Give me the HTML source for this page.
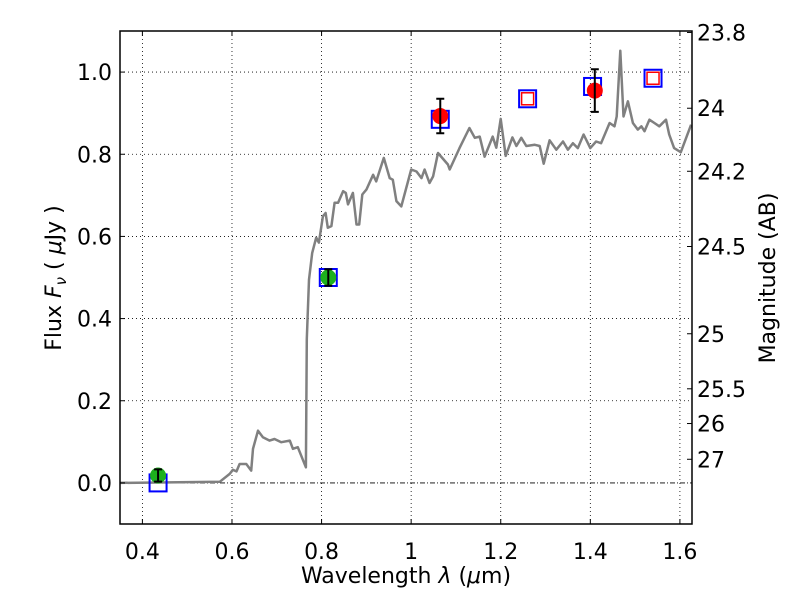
<!DOCTYPE html>
<html><head><meta charset="utf-8"><style>
html,body{margin:0;padding:0;background:#fff;}
svg{display:block;font-family:"DejaVu Sans","Liberation Sans",sans-serif;}
</style></head><body>
<svg id="chart" width="800" height="600" viewBox="0 0 800 600" xmlns="http://www.w3.org/2000/svg">
<rect x="0" y="0" width="800" height="600" fill="#fff"/>
<g id="grid"></g>
<g id="series"></g>
<g id="axes"></g>
<text x="406" y="583" font-size="22" text-anchor="middle">Wavelength  <tspan font-style="italic">λ</tspan> (<tspan font-style="italic">μ</tspan>m)</text>
<text transform="translate(61,278) rotate(-90)" font-size="22" text-anchor="middle">Flux  <tspan font-style="italic">F</tspan><tspan font-style="italic" font-size="15" dy="5">ν</tspan><tspan dy="-5">  ( </tspan><tspan font-style="italic">μ</tspan>Jy )</text>
<text transform="translate(775,278) rotate(-90)" font-size="22" text-anchor="middle">Magnitude (AB)</text>
</svg>
<script>
const xTicks = [0.4, 0.6, 0.8, 1.0, 1.2, 1.4, 1.6];
const xTickLabels = ["0.4", "0.6", "0.8", "1", "1.2", "1.4", "1.6"];
const yTicks = [0.0, 0.2, 0.4, 0.6, 0.8, 1.0];
const yTickLabels = ["0.0", "0.2", "0.4", "0.6", "0.8", "1.0"];
const magTicks = [23.8, 24, 24.2, 24.5, 25, 25.5, 26, 27];
const magTickLabels = ["23.8", "24", "24.2", "24.5", "25", "25.5", "26", "27"];
const specLam = [0.35,0.573,0.595,0.602,0.61,0.617,0.632,0.643,0.647,0.658,0.669,0.684,0.695,0.71,0.729,0.736,0.747,0.765,0.767,0.772,0.779,0.788,0.794,0.803,0.809,0.814,0.822,0.829,0.837,0.848,0.854,0.859,0.87,0.878,0.884,0.891,0.9,0.915,0.922,0.939,0.952,0.959,0.967,0.978,1.0,1.012,1.023,1.03,1.041,1.049,1.06,1.082,1.086,1.108,1.13,1.142,1.153,1.164,1.182,1.19,1.2,1.211,1.226,1.235,1.246,1.257,1.276,1.287,1.296,1.309,1.324,1.339,1.35,1.361,1.372,1.385,1.4,1.413,1.424,1.443,1.454,1.459,1.467,1.474,1.484,1.495,1.506,1.514,1.521,1.532,1.543,1.554,1.569,1.576,1.587,1.602,1.625];
const specFlux = [0.0,0.003,0.022,0.032,0.028,0.046,0.046,0.03,0.083,0.127,0.111,0.103,0.107,0.099,0.103,0.083,0.087,0.038,0.35,0.495,0.56,0.597,0.585,0.649,0.657,0.621,0.625,0.682,0.682,0.71,0.706,0.678,0.706,0.629,0.629,0.702,0.714,0.75,0.734,0.791,0.742,0.738,0.686,0.673,0.763,0.758,0.742,0.763,0.73,0.746,0.803,0.775,0.763,0.815,0.864,0.84,0.843,0.794,0.843,0.816,0.886,0.796,0.841,0.82,0.84,0.82,0.823,0.82,0.777,0.834,0.811,0.831,0.811,0.827,0.815,0.848,0.815,0.831,0.827,0.876,0.868,0.892,1.052,0.892,0.929,0.876,0.86,0.868,0.856,0.884,0.876,0.868,0.884,0.848,0.815,0.805,0.872];
const obsLam = [0.435, 0.815, 1.065, 1.41];
const obsFlux = [0.018, 0.50, 0.893, 0.955];
const obsErr = [0.015, 0.02, 0.042, 0.052];
const obsColor = ["#1db11d", "#1db11d", "#ff0000", "#ff0000"];
const modLam = [0.435, 0.815, 1.065, 1.26, 1.405, 1.54];
const modFlux = [0.0, 0.50, 0.885, 0.935, 0.965, 0.985];
const predLam = [1.26, 1.54];
const predFlux = [0.935, 0.985];

const L=120, R=692, T=31, B=524;
const X0=0.35, X1=1.627, Y0=-0.1, Y1=1.1;
const sx = v => L + (v - X0) / (X1 - X0) * (R - L);
const sy = v => B - (v - Y0) / (Y1 - Y0) * (B - T);
const magToFlux = m => Math.pow(10, (23.9 - m) / 2.5);
const NS = "http://www.w3.org/2000/svg";
function mk(parent, tag, attrs) {
  const e = document.createElementNS(NS, tag);
  for (const k in attrs) e.setAttribute(k, attrs[k]);
  parent.appendChild(e);
  return e;
}
const grid = document.getElementById('grid');
const series = document.getElementById('series');
const axes = document.getElementById('axes');

xTicks.forEach((v, i) => {
  const g = mk(grid, 'line', {x1: sx(v), x2: sx(v), y1: T, y2: B, stroke: '#000', 'stroke-width': 0.8, 'stroke-dasharray': '1,3'});
  
  
  const t1 = mk(axes, 'line', {x1: sx(v), x2: sx(v), y1: B, y2: B - 5, stroke: '#000', 'stroke-width': 1});
  
  
  const t2 = mk(axes, 'line', {x1: sx(v), x2: sx(v), y1: T, y2: T + 5, stroke: '#000', 'stroke-width': 1});
  
  
  const lb = mk(axes, 'text', {x: sx(v), y: 559, 'font-size': 22, 'text-anchor': 'middle'});
  lb.textContent = xTickLabels[i];
  
  
});
yTicks.forEach((v, i) => {
  if (v !== 0) {
    const g = mk(grid, 'line', {x1: L, x2: R, y1: sy(v), y2: sy(v), stroke: '#000', 'stroke-width': 0.8, 'stroke-dasharray': '1,3'});
    
    
  }
  const t1 = mk(axes, 'line', {x1: L, x2: L + 5, y1: sy(v), y2: sy(v), stroke: '#000', 'stroke-width': 1});
  
  
  const lb = mk(axes, 'text', {x: 112, y: sy(v) + 8, 'font-size': 22, 'text-anchor': 'end'});
  lb.textContent = yTickLabels[i];
  
  
});
const zl = mk(grid, 'line', {x1: L, x2: R, y1: sy(0), y2: sy(0), stroke: '#000', 'stroke-width': 0.8, 'stroke-dasharray': '5,2,1,2'});


magTicks.forEach((m, i) => {
  const y = sy(magToFlux(m));
  const t = mk(axes, 'line', {x1: R, x2: R - 5, y1: y, y2: y, stroke: '#000', 'stroke-width': 1});
  
  
  const lb = mk(axes, 'text', {x: 697, y: y + 8, 'font-size': 22});
  lb.textContent = magTickLabels[i];
  
  
});

const pts = specLam.map((l, i) => sx(l).toFixed(1) + ',' + sy(specFlux[i]).toFixed(1)).join(' ');
const sp = mk(series, 'polyline', {points: pts, fill: 'none', stroke: '#808080', 'stroke-width': 2.5, 'stroke-linejoin': 'round'});



modLam.forEach((l, i) => {
  const s = mk(series, 'rect', {x: sx(l) - 8.5, y: sy(modFlux[i]) - 8.5, width: 17, height: 17, fill: 'none', stroke: '#0000ff', 'stroke-width': 2});
  
  
});
predLam.forEach((l, i) => {
  const s = mk(series, 'rect', {x: sx(l) - 6, y: sy(predFlux[i]) - 6, width: 12, height: 12, fill: 'none', stroke: '#ff0000', 'stroke-width': 1.5});
  
  
});
obsLam.forEach((l, i) => {
  const c = mk(series, 'circle', {cx: sx(l), cy: sy(obsFlux[i]), r: 8, fill: obsColor[i]});
  
  
  const y1 = sy(obsFlux[i] + obsErr[i]), y2 = sy(obsFlux[i] - obsErr[i]), x = sx(l);
  const eb = mk(series, 'path', {d: `M${x},${y1}V${y2}M${x-4},${y1}H${x+4}M${x-4},${y2}H${x+4}`, stroke: '#000', 'stroke-width': 2, fill: 'none'});
  
  
});

const fr = mk(axes, 'rect', {x: L, y: T, width: R - L, height: B - T, fill: 'none', stroke: '#000', 'stroke-width': 1.5});


</script>
</body></html>
